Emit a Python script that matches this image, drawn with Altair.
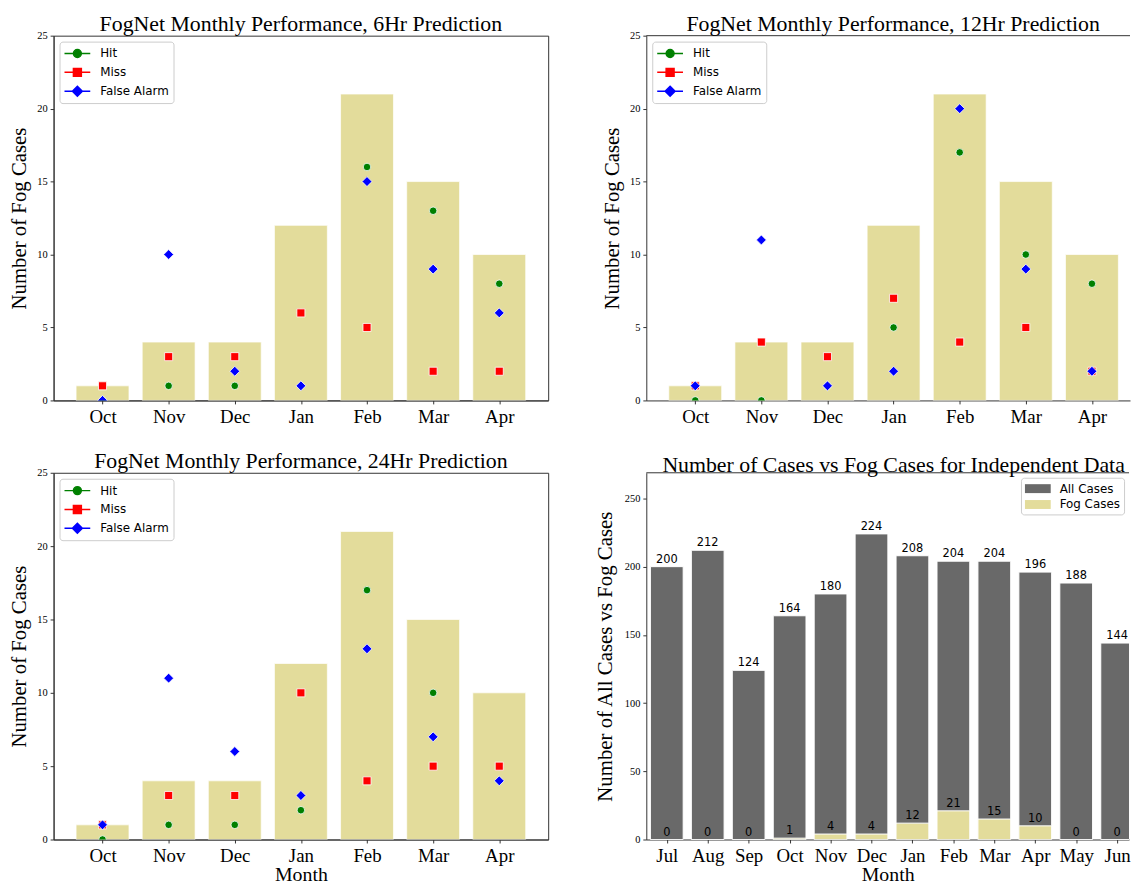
import json
import altair as alt
import pandas as pd

# ---------------- data ----------------
months7 = ["Oct", "Nov", "Dec", "Jan", "Feb", "Mar", "Apr"]
fog7 = [1, 4, 4, 12, 21, 15, 10]

hit6 = [0, 1, 1, 6, 16, 13, 8]
miss6 = [1, 3, 3, 6, 5, 2, 2]
fa6 = [0, 10, 2, 1, 15, 9, 6]

hit12 = [0, 0, 1, 5, 17, 10, 8]
miss12 = [1, 4, 3, 7, 4, 5, 2]
fa12 = [1, 11, 1, 2, 20, 9, 2]

hit24 = [0, 1, 1, 2, 17, 10, 5]
miss24 = [1, 3, 3, 10, 4, 5, 5]
fa24 = [1, 11, 6, 3, 13, 7, 4]

months12 = ["Jul", "Aug", "Sep", "Oct", "Nov", "Dec", "Jan", "Feb", "Mar", "Apr", "May", "Jun"]
all12 = [200, 212, 124, 164, 180, 224, 208, 204, 204, 196, 188, 144]
fogc12 = [0, 0, 0, 1, 4, 4, 12, 21, 15, 10, 0, 0]

series_names = ["Hit", "Miss", "False Alarm"]
series_colors = ["#008000", "#ff0000", "#0000ff"]
marker_shapes = ["circle", "square", "diamond"]
marker_sizes = [58, 66, 100]
legend_paths = [
    "M-1,0L2.714,0M1.428,0A0.571,0.571,0,1,1,0.286,0A0.571,0.571,0,1,1,1.428,0Z",
    "M-1,0L2.714,0M0.286,-0.571L1.428,-0.571L1.428,0.571L0.286,0.571Z",
    "M-1,0L2.714,0M0.857,-0.714L1.571,0L0.857,0.714L0.143,0Z",
]
case_names = ["All Cases", "Fog Cases"]
case_colors = ["#696969", "#E3DC9B"]

SERIF = "Liberation Serif"
SANS = "DejaVu Sans"
BAR = "#E3DC9B"
FRAME = "#333333"

INDEP = dict(fill="independent", stroke="independent", shape="independent",
             x="independent", y="independent")
LEG_INDEP = dict(fill="independent", stroke="independent", shape="independent")


def perf_panel(title, hit, miss, fa, width, height, xmax, month_title, cut, title_dx):
    df_bar = pd.DataFrame({"idx": list(range(7)), "month": months7, "fog": fog7})
    rows = []
    for name, vals in zip(series_names, [hit, miss, fa]):
        for i, v in enumerate(vals):
            rows.append({"idx": i, "series": name, "value": v})
    df_pts = pd.DataFrame(rows)

    xscale = alt.Scale(domain=[-0.74, xmax], nice=False, zero=False)
    yscale = alt.Scale(domain=[0, 25], nice=False)
    expr = json.dumps(months7) + "[datum.value]"

    if month_title:
        xaxis = alt.Axis(values=list(range(7)), labelExpr=expr, title="Month", orient="bottom")
    else:
        xaxis = alt.Axis(values=list(range(7)), labelExpr=expr, title=None, orient="bottom")
    yaxis = alt.Axis(values=[0, 5, 10, 15, 20, 25], title="Number of Fog Cases", orient="left")

    bars = (
        alt.Chart(df_bar)
        .transform_calculate(x0="datum.idx - 0.4", x1="datum.idx + 0.4", base="0")
        .mark_rect(fill=BAR, stroke="white", strokeWidth=0.7, clip=True)
        .encode(
            x=alt.X("x0:Q", scale=xscale, axis=xaxis),
            x2="x1:Q",
            y=alt.Y("fog:Q", scale=yscale, axis=yaxis),
            y2="base:Q",
        )
    )
    layers = [bars]
    for name, color, shape, size in zip(series_names, series_colors, marker_shapes, marker_sizes):
        layers.append(
            alt.Chart(df_pts)
            .transform_filter(alt.datum.series == name)
            .mark_point(filled=True, shape=shape, size=size, fill=color, stroke="white",
                        strokeWidth=0.8, opacity=1, clip=True)
            .encode(x=alt.X("idx:Q", scale=xscale, axis=xaxis),
                    y=alt.Y("value:Q", scale=yscale, axis=yaxis))
        )

    leg = alt.Legend(title=None, orient="top-left", offset=6, symbolSize=196,
                     symbolStrokeWidth=1.5, symbolOpacity=1, labelFont=SANS,
                     labelFontSize=12, labelColor="black", labelOffset=21,
                     rowPadding=4, padding=4, strokeColor="#cccccc",
                     fillColor="white", cornerRadius=3)
    legend_layer = (
        alt.Chart(df_pts)
        .mark_point(filled=True, opacity=0, clip=True)
        .encode(
            x=alt.X("idx:Q", scale=xscale, axis=xaxis),
            y=alt.Y("value:Q", scale=yscale, axis=yaxis),
            fill=alt.Fill("series:N", scale=alt.Scale(domain=series_names, range=series_colors), legend=leg),
            stroke=alt.Stroke("series:N", scale=alt.Scale(domain=series_names, range=series_colors), legend=leg),
            shape=alt.Shape("series:N", scale=alt.Scale(domain=series_names, range=legend_paths), legend=leg),
        )
    )
    layers.append(legend_layer)
    if cut:
        top_edge = (
            alt.Chart(df_bar.head(1))
            .mark_rule(color=FRAME, strokeWidth=1)
            .encode(x=alt.X(datum=-0.74, scale=xscale, axis=xaxis),
                    x2=alt.X2(datum=xmax),
                    y=alt.Y(datum=25, scale=yscale, axis=yaxis))
        )
        layers.append(top_edge)
    ch = alt.layer(*layers).properties(width=width, height=height,
                                       title=alt.TitleParams(title, dx=title_dx))
    if cut:
        ch = ch.properties(view=alt.ViewBackground(stroke="transparent"))
    return ch


def cases_panel(width, height, xmax):
    rows = []
    for name, vals in zip(case_names, [all12, fogc12]):
        for i, v in enumerate(vals):
            rows.append({"idx": i, "series": name, "value": v})
    df4 = pd.DataFrame(rows)
    xscale = alt.Scale(domain=[-0.5, xmax], nice=False, zero=False)
    yscale = alt.Scale(domain=[0, 268.8], nice=False)
    expr = json.dumps(months12) + "[datum.value]"
    xaxis = alt.Axis(values=list(range(12)), labelExpr=expr, title="Month", orient="bottom")
    yaxis = alt.Axis(values=[0, 50, 100, 150, 200, 250], titlePadding=9, orient="left",
                     title="Number of All Cases vs Fog Cases")
    leg4 = alt.Legend(title=None, orient="top-right", offset=5, symbolSize=196,
                      symbolType="M-1,-0.643L2.714,-0.643L2.714,0.643L-1,0.643Z",
                      symbolStrokeWidth=0, labelFont=SANS, labelFontSize=12,
                      labelColor="black", labelOffset=21, rowPadding=3, padding=4,
                      strokeColor="#cccccc", fillColor="white", cornerRadius=3)
    bars = (
        alt.Chart(df4)
        .transform_calculate(x0="datum.idx - 0.4", x1="datum.idx + 0.4", base="0")
        .mark_rect(stroke="white", strokeWidth=1, clip=True)
        .encode(
            x=alt.X("x0:Q", scale=xscale, axis=xaxis),
            x2="x1:Q",
            y=alt.Y("value:Q", scale=yscale, axis=yaxis),
            y2="base:Q",
            fill=alt.Fill("series:N", scale=alt.Scale(domain=case_names, range=case_colors), legend=leg4),
        )
    )
    labels = (
        alt.Chart(df4)
        .mark_text(baseline="bottom", dy=-2, font=SANS, fontSize=11.5, color="black", clip=True)
        .encode(
            x=alt.X("idx:Q", scale=xscale, axis=xaxis),
            y=alt.Y("value:Q", scale=yscale, axis=yaxis),
            text="value:Q",
        )
    )
    top_edge = (
        alt.Chart(df4.head(1))
        .mark_rule(color=FRAME, strokeWidth=1)
        .encode(x=alt.X(datum=-0.5, scale=xscale, axis=xaxis),
                x2=alt.X2(datum=xmax),
                y=alt.Y(datum=268.8, scale=yscale, axis=yaxis))
    )
    return (
        alt.layer(bars, labels, top_edge)
        .properties(width=width, height=height,
                    title=alt.TitleParams("Number of Cases vs Fog Cases for Independent Data", dx=6),
                    view=alt.ViewBackground(stroke="transparent"))
    )


p1 = perf_panel("FogNet Monthly Performance, 6Hr Prediction", hit6, miss6, fa6, 499, 368, 6.74, False, False, 0)
p2 = perf_panel("FogNet Monthly Performance, 12Hr Prediction", hit12, miss12, fa12, 488, 368, 6.576, False, True, 5)
p3 = perf_panel("FogNet Monthly Performance, 24Hr Prediction", hit24, miss24, fa24, 499, 370, 6.74, True, False, 0)
p4 = cases_panel(487, 370, 11.29)

row1 = alt.hconcat(p1, p2, spacing=52).resolve_scale(**INDEP).resolve_legend(**LEG_INDEP)
row2 = alt.hconcat(p3, p4, spacing=45).resolve_scale(**INDEP).resolve_legend(**LEG_INDEP)

chart = (
    alt.vconcat(row1, row2, spacing=22)
    .resolve_scale(**INDEP)
    .resolve_legend(**LEG_INDEP)
    .configure(padding={"left": 0, "top": 0, "right": 0, "bottom": 0})
    .configure_view(stroke=FRAME, strokeWidth=1)
    .configure_axis(labelFont=SERIF, titleFont=SERIF, labelColor="black", titleColor="black",
                    tickColor=FRAME, domainColor=FRAME, tickSize=3.5, grid=False,
                    labelFlush=False, labelOverlap=False, titleFontWeight="normal")
    .configure_axisX(labelFontSize=19, titleFontSize=20, labelPadding=4, titlePadding=-1)
    .configure_axisY(labelFontSize=10.5, titleFontSize=21, labelPadding=3, titlePadding=7)
    .configure_title(font=SERIF, fontSize=22, fontWeight="normal", color="black", offset=-5)
)

chart.save("out.html", embed_options={"renderer": "svg", "actions": False})
